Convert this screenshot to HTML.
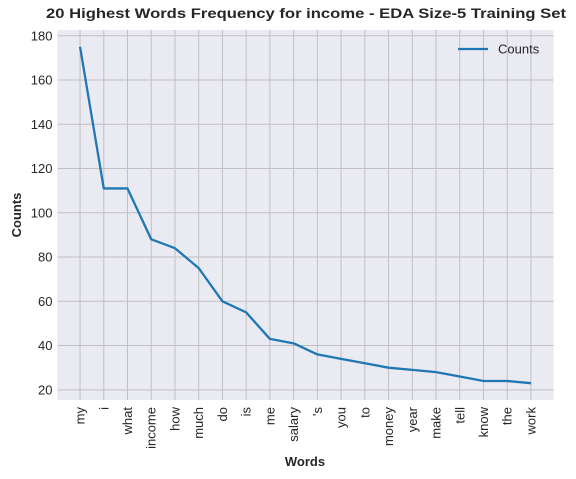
<!DOCTYPE html>
<html><head><meta charset="utf-8"><style>
body{margin:0;background:#fff;}
svg{display:block;font-family:"Liberation Sans",Arial,sans-serif;}
</style></head><body>
<svg id="chart" width="576" height="479">
<rect x="57.5" y="30" width="496" height="370" fill="#eaeaf2"/>
<g id="grid"></g>
<g id="ticks"></g>
<polyline id="line" fill="none" stroke="#1f77b4" stroke-width="2.3" stroke-linejoin="round"/>
<text x="46" y="18" font-size="14" font-weight="bold" fill="#262626" textLength="520" lengthAdjust="spacingAndGlyphs">20 Highest Words Frequency for income - EDA Size-5 Training Set</text>
<text x="305" y="466" text-anchor="middle" font-size="13" font-weight="bold" fill="#262626">Words</text>
<text transform="translate(21,215) rotate(-90)" text-anchor="middle" font-size="13" font-weight="bold" fill="#262626">Counts</text>
<g>
<line x1="458" y1="49" x2="488" y2="49" stroke="#1f77b4" stroke-width="2.3"/>
<text x="498" y="53.5" font-size="13" fill="#262626">Counts</text>
</g>
</svg>
<script>
const words=["my","i","what","income","how","much","do","is","me","salary","'s","you","to","money","year","make","tell","know","the","work"];
const counts=[175,111,111,88,84,75,60,55,43,41,36,34,32,30,29,28,26,24,24,23];
const yTicks=[20,40,60,80,100,120,140,160,180];
const NS="http://www.w3.org/2000/svg";
const L=57.5,R=553.5,T=30,B=400;
const n=words.length;
const ymin=Math.min(...counts),ymax=Math.max(...counts),pad=(ymax-ymin)*0.05;
const x=i=>L+(R-L)*(i+0.95)/(n-1+1.9);
const y=v=>B-(B-T)*(v-(ymin-pad))/((ymax+pad)-(ymin-pad));
const grid=document.getElementById('grid'),ticks=document.getElementById('ticks');
function mk(tag,attrs,parent){const e=document.createElementNS(NS,tag);for(const k in attrs)e.setAttribute(k,attrs[k]);parent.appendChild(e);return e;}
yTicks.forEach(v=>{
 const g=mk('line',{x1:L,x2:R,y1:y(v),y2:y(v),stroke:'#c0c0c0','stroke-width':1},grid);
 
 
 const t=mk('text',{x:L-5,y:y(v)+4.5,'text-anchor':'end','font-size':13,fill:'#262626'},ticks);
 t.textContent=v;
 
 
});
words.forEach((w,i)=>{
 const g=mk('line',{x1:x(i),x2:x(i),y1:T,y2:B,stroke:'#c0c0c0','stroke-width':1},grid);
 
 
 const t=mk('text',{transform:`translate(${x(i)+4.5},${B+7}) rotate(-90)`,'text-anchor':'end','font-size':13,fill:'#262626'},ticks);
 t.textContent=w;
 
 
});
document.getElementById('line').setAttribute('points',counts.map((c,i)=>x(i)+','+y(c)).join(' '));
</script>
</body></html>
